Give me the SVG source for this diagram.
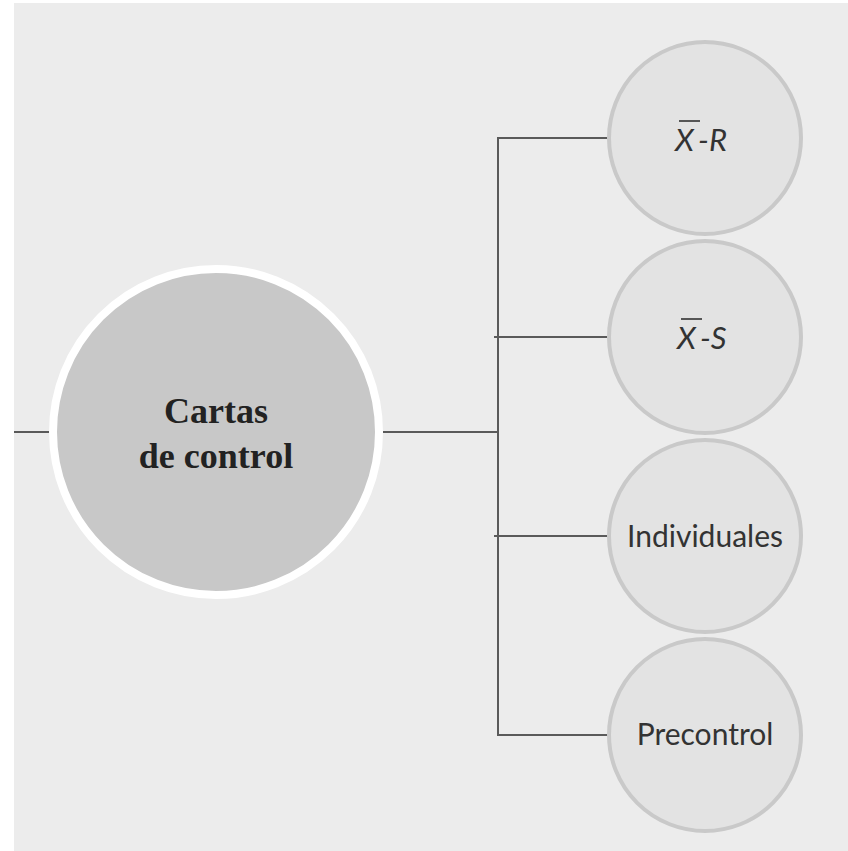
<svg xmlns="http://www.w3.org/2000/svg" width="848" height="851" viewBox="0 0 848 851">
<style>
.bg{fill:#ececec}
.conn{stroke:#5a5a5a;stroke-width:2;fill:none}
.small{fill:#e3e3e3;stroke:#c9c9c9;stroke-width:4}
.big{fill:#c8c8c8;stroke:#ffffff;stroke-width:8}
.bt{font-family:"Liberation Serif",serif;font-weight:bold;font-size:36px;fill:#222;text-anchor:middle}
.st{font-family:Lato,"Open Sans",sans-serif;font-size:30px;fill:#333;text-anchor:middle}
.it{font-family:Lato,"Liberation Sans",sans-serif;font-style:italic;font-size:31px;fill:#333}
.ov{stroke:#333;stroke-width:1.6}
</style>
<rect width="848" height="851" fill="#ffffff"/>
<rect class="bg" x="14" y="3" width="834" height="848"/>
<g id="connectors">
<line class="conn" x1="14" y1="432" x2="50" y2="432"/>
<line class="conn" x1="383" y1="432" x2="498" y2="432"/>
<line class="conn" x1="498" y1="138" x2="498" y2="735"/>
<line class="conn" x1="497" y1="138" x2="610" y2="138"/>
<line class="conn" x1="494" y1="337" x2="610" y2="337"/>
<line class="conn" x1="494" y1="536" x2="610" y2="536"/>
<line class="conn" x1="497" y1="735" x2="610" y2="735"/>
</g>
<g id="cartas">
<circle class="big" cx="216" cy="432" r="163"/>
<text class="bt" x="216" y="423">Cartas</text>
<text class="bt" x="216" y="468">de control</text>
</g>
<g id="xr">
<circle class="small" cx="705" cy="138" r="96"/>
<text class="it" x="675" y="151">X<tspan dx="5">-R</tspan></text>
<line class="ov" x1="679" y1="121" x2="700" y2="121"/>
</g>
<g id="xs">
<circle class="small" cx="705" cy="337" r="96"/>
<text class="it" x="677" y="349">X<tspan dx="5">-S</tspan></text>
<line class="ov" x1="681" y1="319" x2="702" y2="319"/>
</g>
<g id="individuales">
<circle class="small" cx="705" cy="536" r="96"/>
<text class="st" x="705" y="547">Individuales</text>
</g>
<g id="precontrol">
<circle class="small" cx="705" cy="735" r="96"/>
<text class="st" x="705" y="745">Precontrol</text>
</g>
</svg>
